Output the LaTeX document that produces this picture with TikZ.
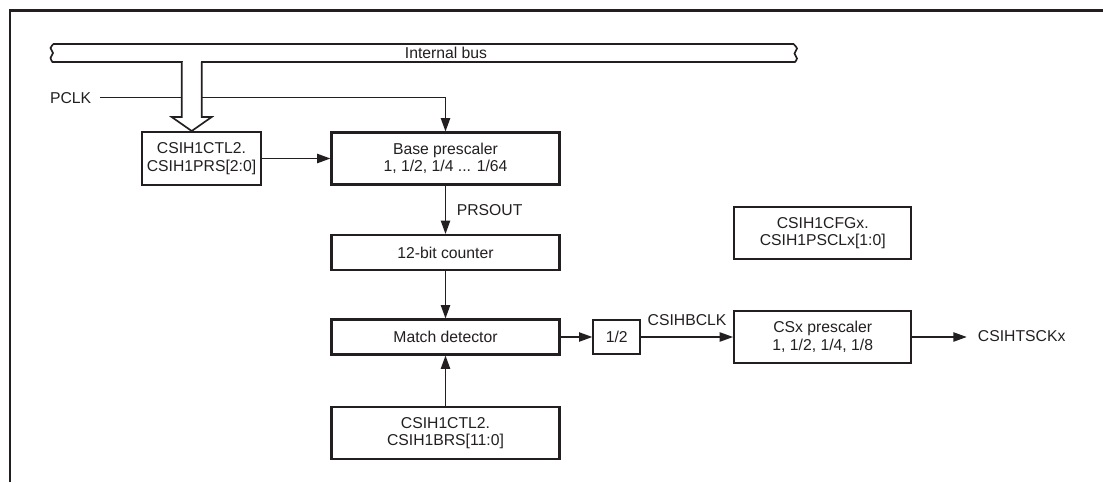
\documentclass[tikz,border=0pt]{standalone}
\usepackage{fontspec}
\setmainfont{Liberation Sans}
\usetikzlibrary{arrows.meta}
\definecolor{ink}{HTML}{231F20}
\begin{document}
\begin{tikzpicture}[x=0.75pt,y=-0.75pt,
  box/.style={draw=ink, line width=1.55pt, fill=white, inner sep=0pt, align=center, text=ink, font=\fontsize{11.8}{13.2}\selectfont},
  conn/.style={draw=ink, line width=0.95pt},
  arr/.style={conn, -{Triangle[length=10pt,width=7pt]}},
  lbl/.style={text=ink, inner sep=0pt, font=\fontsize{11.8}{13.2}\selectfont},
  busline/.style={draw=ink, line width=1.25pt, line join=miter},
]
\useasboundingbox (0,0) rectangle (1103,482);
% frame
\draw[ink, line width=1.7pt] (10,482) -- (10,10.5) -- (1103,10.5);
% internal bus
\draw[busline, fill=white] plot[smooth] coordinates {(52.5,62) (50.5,58) (53,53) (50.5,48) (53.5,44)}
  -- plot[smooth] coordinates {(793.5,44) (797,48.5) (794.5,53.5) (797,58.5) (795,62)} -- cycle;
\node[lbl] (bus) at (446,53) {Internal bus};

% boxes
\node[box, minimum width=89.25pt, minimum height=39.75pt] (prs) at (201.5,158.5) {CSIH1CTL2.\\CSIH1PRS[2:0]};
\node[box, minimum width=171pt, minimum height=39pt] (base) at (445.5,158.5) {Base prescaler\\1, 1/2, 1/4 ... 1/64};
\node[box, minimum width=171pt, minimum height=26.25pt] (cnt) at (445.5,252.5) {12-bit counter};
\node[box, minimum width=171pt, minimum height=26.25pt] (match) at (445.5,337) {Match detector};
\node[box, minimum width=171pt, minimum height=39pt] (brs) at (445.5,433) {CSIH1CTL2.\\CSIH1BRS[11:0]};
\node[box, minimum width=35pt, minimum height=26pt] (half) at (616.7,337) {1/2};
\node[box, minimum width=133pt, minimum height=39.25pt] (csx) at (822.75,337) {CSx prescaler\\1, 1/2, 1/4, 1/8};
\node[box, minimum width=133pt, minimum height=39.5pt] (cfg) at (822.75,233) {CSIH1CFGx.\\CSIH1PSCLx[1:0]};

% PCLK
\node[lbl, anchor=east] (pclk) at (91.5,97.7) {PCLK};
\draw[arr] ([xshift=6.4pt]pclk.east) -| (base.north);

% hollow arrow from bus
\fill[white] (183,60) rectangle (200.5,118);
\draw[busline, fill=white] (181.7,62) -- (181.7,117) -- (171.7,117) -- (191.7,131) -- (211.7,117) -- (201.7,117) -- (201.7,62);

% connectors
\draw[arr] (prs.east) -- (base.west);
\draw[arr] (base.south) -- node[lbl, anchor=west, xshift=8pt, name=prsout] {PRSOUT} (cnt.north);
\draw[arr] (cnt.south) -- (match.north);
\draw[arr] (brs.north) -- (match.south);
\draw[arr] (match.east) -- (half.west);
\draw[arr] (half.east) -- node[lbl, anchor=base, yshift=8.6pt, name=bclk] {CSIHBCLK} (csx.west);
\coordinate (out) at (966.7,337);
\draw[arr] (csx.east) -- (out);
\node[lbl, anchor=west] (tsck) at (977.7,336) {CSIHTSCKx};
\end{tikzpicture}
\end{document}
